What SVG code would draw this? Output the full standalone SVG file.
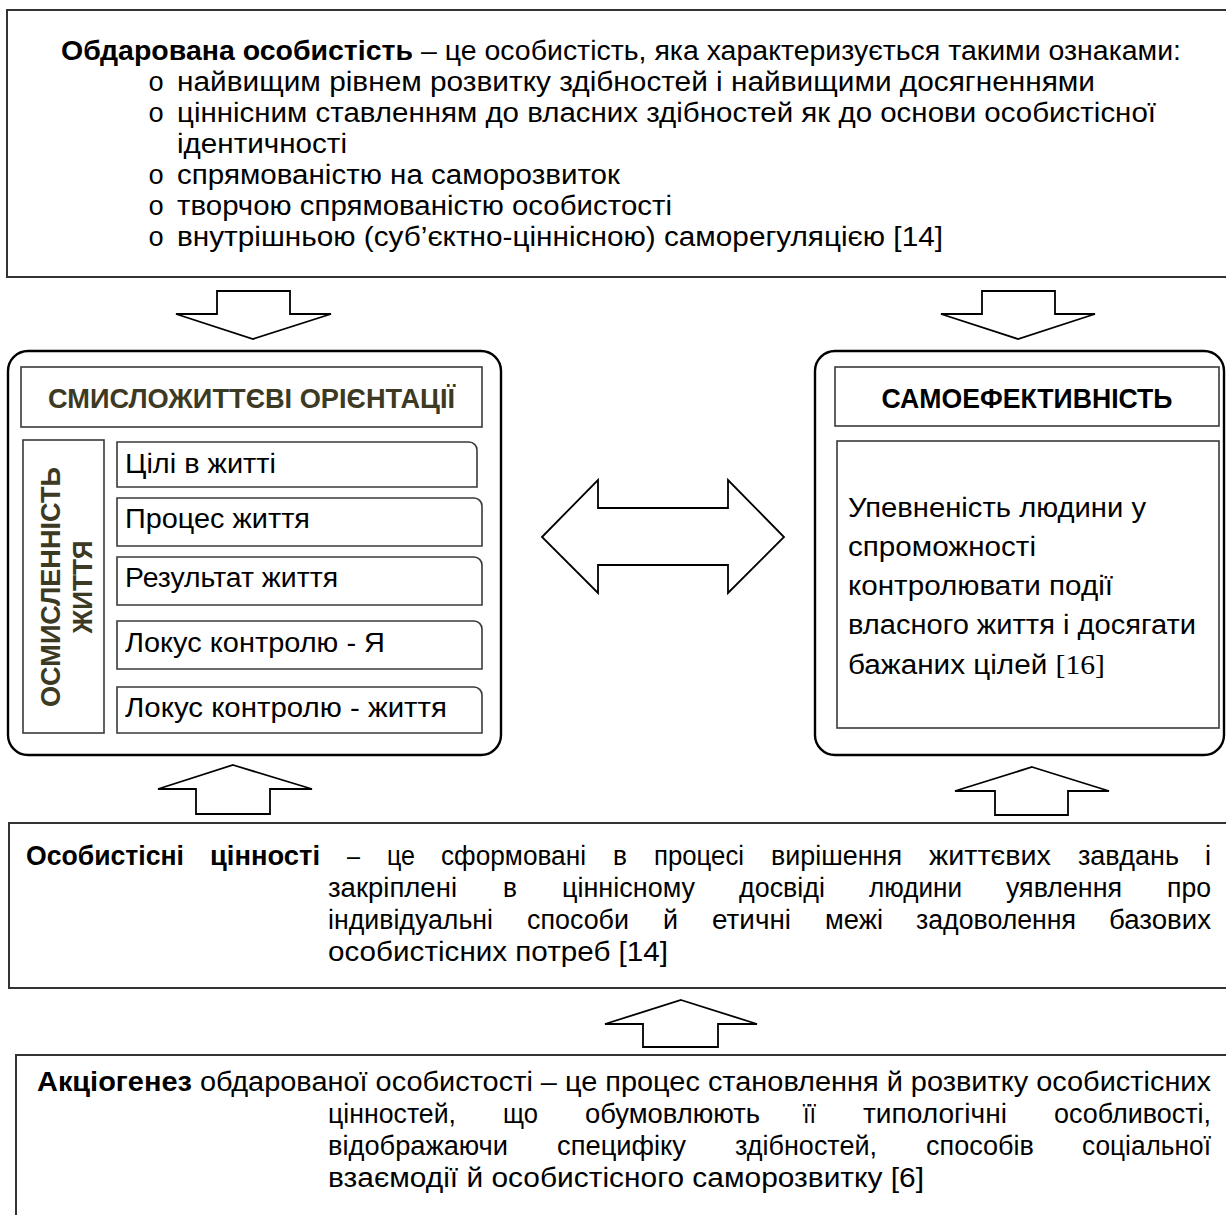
<svg xmlns="http://www.w3.org/2000/svg" width="1226" height="1215" viewBox="0 0 1226 1215">
<style>
.t{font-family:"Liberation Sans","Arimo","DejaVu Sans",sans-serif;font-size:27px;fill:#000}
.b{font-weight:bold}
.bul{font-family:"Liberation Mono","DejaVu Sans Mono",monospace;font-size:27px;fill:#000}
.ser{font-family:"Liberation Serif","DejaVu Serif",serif}
.hd{font-family:"Liberation Sans","Arimo",sans-serif;font-size:27px;font-weight:bold}
.ol{fill:#3d3a24}
.frame{fill:#fff;stroke:#333;stroke-width:2}
.big{fill:#fff;stroke:#000;stroke-width:2.4}
.inner{fill:#fff;stroke:#3a3a3a;stroke-width:1.6}
.arr{fill:#fff;stroke:#000;stroke-width:1.8;stroke-linejoin:miter}
</style>

<g id="gifted-personality">
<rect class="frame" x="7" y="10" width="1240" height="267"/>
<text class="t" x="61" y="60" textLength="1120" lengthAdjust="spacingAndGlyphs"><tspan class="b">Обдарована особистість</tspan> – це особистість, яка характеризується такими ознаками:</text>
<text class="bul" x="148" y="91">o</text>
<text class="t" x="177" y="91" textLength="918" lengthAdjust="spacingAndGlyphs">найвищим рівнем розвитку здібностей і найвищими досягненнями</text>
<text class="bul" x="148" y="122">o</text>
<text class="t" x="177" y="122" textLength="979" lengthAdjust="spacingAndGlyphs">ціннісним ставленням до власних здібностей як до основи особистісної</text>
<text class="t" x="177" y="153" textLength="170" lengthAdjust="spacingAndGlyphs">ідентичності</text>
<text class="bul" x="148" y="184">o</text>
<text class="t" x="177" y="184" textLength="443" lengthAdjust="spacingAndGlyphs">спрямованістю на саморозвиток</text>
<text class="bul" x="148" y="215">o</text>
<text class="t" x="177" y="215" textLength="495" lengthAdjust="spacingAndGlyphs">творчою спрямованістю особистості</text>
<text class="bul" x="148" y="246">o</text>
<text class="t" x="177" y="246" textLength="766" lengthAdjust="spacingAndGlyphs">внутрішньою (суб’єктно-ціннісною) саморегуляцією [14]</text>
</g>

<g id="life-orientations">
<rect class="big" x="8" y="351" width="493" height="404" rx="20" ry="20"/>
<rect class="inner" x="21" y="367" width="461" height="60"/>
<text class="hd ol" x="251.5" y="408" text-anchor="middle" textLength="407" lengthAdjust="spacingAndGlyphs">СМИСЛОЖИТТЄВІ ОРІЄНТАЦІЇ</text>
<rect class="inner" x="23" y="440" width="81" height="293"/>
<text class="hd ol" transform="translate(60,587) rotate(-90)" text-anchor="middle" textLength="240" lengthAdjust="spacingAndGlyphs">ОСМИСЛЕННІСТЬ</text>
<text class="hd ol" transform="translate(92,587) rotate(-90)" text-anchor="middle" textLength="93" lengthAdjust="spacingAndGlyphs">ЖИТТЯ</text>
<path class="inner" d="M117,442 H469 A8,8 0 0 1 477,450 V487 H117 Z"/>
<text class="t" x="125" y="473" textLength="151" lengthAdjust="spacingAndGlyphs">Цілі в житті</text>
<path class="inner" d="M117,498 H474 A8,8 0 0 1 482,506 V546 H117 Z"/>
<text class="t" x="125" y="528" textLength="185" lengthAdjust="spacingAndGlyphs">Процес життя</text>
<path class="inner" d="M117,557 H474 A8,8 0 0 1 482,565 V605 H117 Z"/>
<text class="t" x="125" y="587" textLength="213" lengthAdjust="spacingAndGlyphs">Результат життя</text>
<path class="inner" d="M117,621 H474 A8,8 0 0 1 482,629 V669 H117 Z"/>
<text class="t" x="125" y="652" textLength="260" lengthAdjust="spacingAndGlyphs">Локус контролю - Я</text>
<path class="inner" d="M117,687 H474 A8,8 0 0 1 482,695 V733 H117 Z"/>
<text class="t" x="125" y="717" textLength="322" lengthAdjust="spacingAndGlyphs">Локус контролю - життя</text>
</g>

<g id="self-efficacy">
<rect class="big" x="815" y="351" width="409" height="404" rx="20" ry="20"/>
<rect class="inner" x="835" y="367" width="384" height="59"/>
<text class="hd" x="1027" y="408" text-anchor="middle" textLength="291" lengthAdjust="spacingAndGlyphs">САМОЕФЕКТИВНІСТЬ</text>
<rect class="inner" x="837" y="441" width="382" height="287"/>
<text class="t" x="848" y="517" textLength="298" lengthAdjust="spacingAndGlyphs">Упевненість людини у</text>
<text class="t" x="848" y="556" textLength="188" lengthAdjust="spacingAndGlyphs">спроможності</text>
<text class="t" x="848" y="595" textLength="265" lengthAdjust="spacingAndGlyphs">контролювати події</text>
<text class="t" x="848" y="634" textLength="348" lengthAdjust="spacingAndGlyphs">власного життя і досягати</text>
<text class="t" x="848" y="674" textLength="257" lengthAdjust="spacingAndGlyphs">бажаних цілей <tspan class="ser">[16]</tspan></text>
</g>

<g id="personal-values">
<rect class="frame" x="9" y="823" width="1240" height="165"/>
<text class="t b" x="26" y="865" textLength="158" lengthAdjust="spacingAndGlyphs">Особистісні</text>
<text class="t b" x="210" y="865" textLength="110" lengthAdjust="spacingAndGlyphs">цінності</text>
<text class="t" x="347" y="865" textLength="13" lengthAdjust="spacingAndGlyphs">–</text>
<text class="t" x="387" y="865" textLength="28" lengthAdjust="spacingAndGlyphs">це</text>
<text class="t" x="441" y="865" textLength="145" lengthAdjust="spacingAndGlyphs">сформовані</text>
<text class="t" x="613" y="865" textLength="14" lengthAdjust="spacingAndGlyphs">в</text>
<text class="t" x="654" y="865" textLength="90" lengthAdjust="spacingAndGlyphs">процесі</text>
<text class="t" x="771" y="865" textLength="131" lengthAdjust="spacingAndGlyphs">вирішення</text>
<text class="t" x="929" y="865" textLength="122" lengthAdjust="spacingAndGlyphs">життєвих</text>
<text class="t" x="1078" y="865" textLength="101" lengthAdjust="spacingAndGlyphs">завдань</text>
<text class="t" x="1211" y="865" text-anchor="end">і</text>
<text class="t" x="328" y="897" textLength="129" lengthAdjust="spacingAndGlyphs">закріплені</text>
<text class="t" x="503" y="897" textLength="14" lengthAdjust="spacingAndGlyphs">в</text>
<text class="t" x="562" y="897" textLength="133" lengthAdjust="spacingAndGlyphs">ціннісному</text>
<text class="t" x="739" y="897" textLength="86" lengthAdjust="spacingAndGlyphs">досвіді</text>
<text class="t" x="869" y="897" textLength="93" lengthAdjust="spacingAndGlyphs">людини</text>
<text class="t" x="1006" y="897" textLength="116" lengthAdjust="spacingAndGlyphs">уявлення</text>
<text class="t" x="1211" y="897" text-anchor="end" textLength="44" lengthAdjust="spacingAndGlyphs">про</text>
<text class="t" x="328" y="929" textLength="165" lengthAdjust="spacingAndGlyphs">індивідуальні</text>
<text class="t" x="527" y="929" textLength="102" lengthAdjust="spacingAndGlyphs">способи</text>
<text class="t" x="663" y="929" textLength="15" lengthAdjust="spacingAndGlyphs">й</text>
<text class="t" x="712" y="929" textLength="79" lengthAdjust="spacingAndGlyphs">етичні</text>
<text class="t" x="825" y="929" textLength="58" lengthAdjust="spacingAndGlyphs">межі</text>
<text class="t" x="916" y="929" textLength="160" lengthAdjust="spacingAndGlyphs">задоволення</text>
<text class="t" x="1211" y="929" text-anchor="end" textLength="102" lengthAdjust="spacingAndGlyphs">базових</text>
<text class="t" x="328" y="961" textLength="340" lengthAdjust="spacingAndGlyphs">особистісних потреб [14]</text>
</g>

<g id="axiogenesis">
<rect class="frame" x="16" y="1055" width="1240" height="180"/>
<text class="t" x="37" y="1091" textLength="1174" lengthAdjust="spacingAndGlyphs"><tspan class="b">Акціогенез</tspan> обдарованої особистості – це процес становлення й розвитку особистісних</text>
<text class="t" x="328" y="1123" textLength="128" lengthAdjust="spacingAndGlyphs">цінностей,</text>
<text class="t" x="503" y="1123" textLength="35" lengthAdjust="spacingAndGlyphs">що</text>
<text class="t" x="585" y="1123" textLength="175" lengthAdjust="spacingAndGlyphs">обумовлюють</text>
<text class="t" x="803" y="1123" textLength="13" lengthAdjust="spacingAndGlyphs">її</text>
<text class="t" x="863" y="1123" textLength="144" lengthAdjust="spacingAndGlyphs">типологічні</text>
<text class="t" x="1211" y="1123" text-anchor="end" textLength="157" lengthAdjust="spacingAndGlyphs">особливості,</text>
<text class="t" x="328" y="1155" textLength="180" lengthAdjust="spacingAndGlyphs">відображаючи</text>
<text class="t" x="557" y="1155" textLength="129" lengthAdjust="spacingAndGlyphs">специфіку</text>
<text class="t" x="735" y="1155" textLength="142" lengthAdjust="spacingAndGlyphs">здібностей,</text>
<text class="t" x="926" y="1155" textLength="108" lengthAdjust="spacingAndGlyphs">способів</text>
<text class="t" x="1211" y="1155" text-anchor="end" textLength="129" lengthAdjust="spacingAndGlyphs">соціальної</text>
<text class="t" x="328" y="1187" textLength="596" lengthAdjust="spacingAndGlyphs">взаємодії й особистісного саморозвитку [6]</text>
</g>

<g id="connectors">
<polygon class="arr" points="217,291 290,291 290,314 331,314 253,339 176,314 217,314"/>
<polygon class="arr" points="982,291 1055,291 1055,314 1095,314 1018,339 941,314 982,314"/>
<polygon class="arr" points="542,537 598,480 598,508 728,508 728,480 784,537 728,593 728,565 598,565 598,593"/>
<polygon class="arr" points="233,765 312,789 270,789 270,814 196,814 196,789 158,789"/>
<polygon class="arr" points="1032,767 1109,791 1068,791 1068,815 995,815 995,791 955,791"/>
<polygon class="arr" points="681,1000 757,1024 718,1024 718,1047 643,1047 643,1024 605,1024"/>
</g>
</svg>
